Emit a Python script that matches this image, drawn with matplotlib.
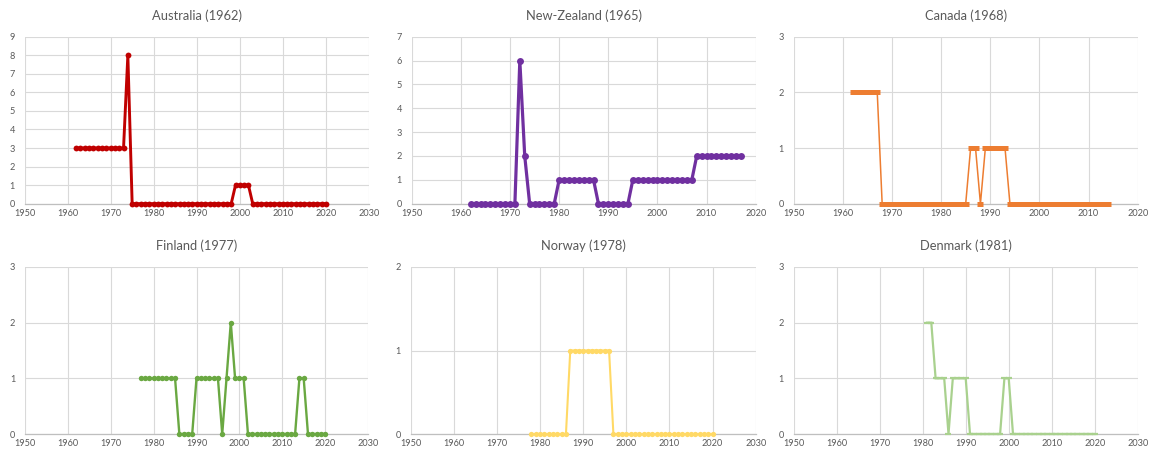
import matplotlib
matplotlib.use("Agg")
import matplotlib.pyplot as plt

plt.rcParams['font.family'] = ['Lato', 'DejaVu Sans']

# ---- data ----
aus_years = list(range(1962, 2021))
aus_vals = [3, 3, 3, 3, 3, 3, 3, 3, 3, 3, 3, 3,
            8,
            0, 0, 0, 0, 0, 0, 0, 0, 0, 0, 0, 0, 0, 0, 0, 0, 0, 0, 0, 0, 0, 0, 0, 0,
            1, 1, 1, 1,
            0, 0, 0, 0, 0, 0, 0, 0, 0, 0, 0, 0, 0, 0, 0, 0, 0, 0]

nz_years = list(range(1962, 2018))
nz_vals = [0, 0, 0, 0, 0, 0, 0, 0, 0, 0,
           6, 2,
           0, 0, 0, 0, 0, 0,
           1, 1, 1, 1, 1, 1, 1, 1,
           0, 0, 0, 0, 0, 0, 0,
           1, 1, 1, 1, 1, 1, 1, 1, 1, 1, 1, 1, 1,
           2, 2, 2, 2, 2, 2, 2, 2, 2, 2]

can_years = list(range(1962, 2015))
can_vals = [2, 2, 2, 2, 2, 2,
            0, 0, 0, 0, 0, 0, 0, 0, 0, 0, 0, 0, 0, 0, 0, 0, 0, 0,
            1, 1,
            0,
            1, 1, 1, 1, 1,
            0, 0, 0, 0, 0, 0, 0, 0, 0, 0, 0, 0, 0, 0, 0, 0, 0, 0, 0, 0, 0]

fin_years = list(range(1977, 2021))
fin_vals = [1, 1, 1, 1, 1, 1, 1, 1, 1,
            0, 0, 0, 0,
            1, 1, 1, 1, 1, 1,
            0, 1, 2, 1, 1, 1,
            0, 0, 0, 0, 0, 0, 0, 0, 0, 0, 0, 0,
            1, 1,
            0, 0, 0, 0, 0]

nor_years = list(range(1978, 2021))
nor_vals = [0, 0, 0, 0, 0, 0, 0, 0, 0,
            1, 1, 1, 1, 1, 1, 1, 1, 1, 1,
            0, 0, 0, 0, 0, 0, 0, 0, 0, 0, 0, 0, 0, 0, 0, 0, 0, 0, 0, 0, 0, 0, 0, 0]

den_years = list(range(1981, 2021))
den_vals = [2, 2,
            1, 1, 1,
            0,
            1, 1, 1, 1,
            0, 0, 0, 0, 0, 0, 0, 0,
            1, 1,
            0, 0, 0, 0, 0, 0, 0, 0, 0, 0, 0, 0, 0, 0, 0, 0, 0, 0, 0, 0]

titles = ["Australia (1962)", "New-Zealand (1965)", "Canada (1968)",
          "Finland (1977)", "Norway (1978)", "Denmark (1981)"]

W, H = 1149, 453
fig = plt.figure(figsize=(W / 100, H / 100), dpi=100)

def box(x0, x1, ytop, ybot):
    return [x0 / W, 1 - ybot / H, (x1 - x0) / W, (ybot - ytop) / H]

panels = [
    dict(years=aus_years, vals=aus_vals, color="#C00000", xmax=2030, ymax=9,
         pos=box(24.5, 369, 36.7, 203.7), marker='o', ms=4.2, lw=2.1, mew=0, ty=16),
    dict(years=nz_years, vals=nz_vals, color="#7030A0", xmax=2020, ymax=7,
         pos=box(411.7, 755.7, 36.7, 203.7), marker='o', ms=5.0, lw=2.3, mew=0, ty=16),
    dict(years=can_years, vals=can_vals, color="#ED7D31", xmax=2020, ymax=3,
         pos=box(793.7, 1137.7, 36.7, 203.7), marker='_', ms=4.3, lw=1.1, mew=3.6, ty=16),
    dict(years=fin_years, vals=fin_vals, color="#6AA842", xmax=2030, ymax=3,
         pos=box(25, 368, 267, 434), marker='o', ms=3.9, lw=1.7, mew=0, ty=246),
    dict(years=nor_years, vals=nor_vals, color="#FFD966", xmax=2030, ymax=2,
         pos=box(410.7, 755.7, 267, 434), marker='o', ms=3.8, lw=1.5, mew=0, ty=246),
    dict(years=den_years, vals=den_vals, color="#A9D18E", xmax=2030, ymax=3,
         pos=box(793.7, 1137.7, 267, 434), marker='_', ms=3.8, lw=1.6, mew=1.6, ty=246),
]

grid_c = "#D9D9D9"
txt_c = "#595959"

for p, title in zip(panels, titles):
    ax = fig.add_axes(p['pos'])
    ax.plot(p['years'], p['vals'], color=p['color'], lw=p['lw'],
            marker=p['marker'], ms=p['ms'], mew=p['mew'],
            mec=p['color'], mfc=p['color'], solid_joinstyle='miter',
            clip_on=False, zorder=3)
    ax.set_xlim(1950, p['xmax'])
    ax.set_ylim(0, p['ymax'])
    ax.set_xticks(list(range(1950, p['xmax'] + 1, 10)))
    ax.set_yticks(list(range(0, p['ymax'] + 1)))
    ax.grid(True, color=grid_c, lw=0.8)
    ax.set_axisbelow(True)
    for s in ['top', 'right', 'left']:
        ax.spines[s].set_visible(False)
    ax.spines['bottom'].set_color("#BFBFBF")
    ax.spines['bottom'].set_linewidth(0.9)
    ax.spines['bottom'].set_zorder(2)
    ax.tick_params(length=0, labelsize=6.6, labelcolor=txt_c)
    ax.tick_params(axis='x', pad=3.5)
    ax.tick_params(axis='y', pad=7)
    bb = p['pos']
    fig.text(bb[0] + bb[2] / 2, 1 - p['ty'] / H, title, ha='center', va='center',
             fontsize=9.3, color=txt_c)

fig.savefig("out.png", dpi=100, facecolor="white")
